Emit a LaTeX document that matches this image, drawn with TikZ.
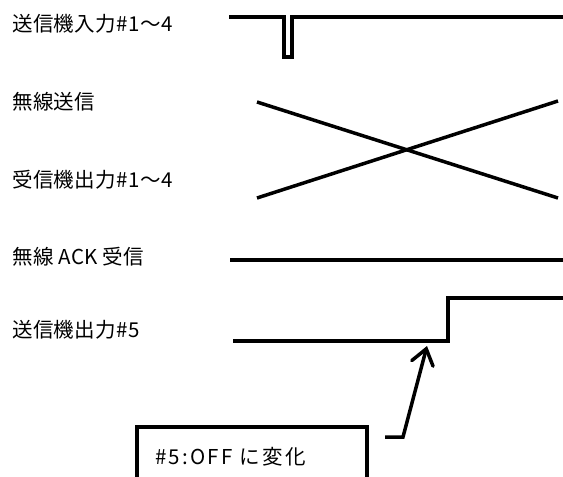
\documentclass[tikz,border=0pt]{standalone}
\usepackage{fontspec}
\setmainfont{Noto Sans CJK JP}
\usetikzlibrary{arrows.meta}
\tikzset{
  wave/.style={line width=3.5pt, line join=miter},
  lbl/.style={anchor=west, inner sep=0pt, font=\fontsize{20.5}{24}\selectfont\addfontfeature{LetterSpace=2}},
  callout/.style={draw, line width=3.5pt, minimum width=230pt, minimum height=80pt, anchor=north west, inner sep=0pt},
  ptr/.style={line width=3.5pt, -{Straight Barb[length=15pt, width=22pt, line cap=round]}}
}
\begin{document}
\begin{tikzpicture}[x=1pt, y=-1pt]
\useasboundingbox (0,0) rectangle (563,477);
\clip (0,0) rectangle (563,477);
% labels
\node[lbl] (l1) at (12,24) {送信機入力\#1～4};
\node[lbl] (l2) at (12,102) {無線送信};
\node[lbl] (l3) at (12,180) {受信機出力\#1～4};
\node[lbl] (l4) at (12,257) {無線 ACK 受信};
\node[lbl] (l5) at (12,330) {送信機出力\#5};
% waveform 1
\draw[wave] (229,17) -- (284,17) -- (284,57) -- (292,57) -- (292,17) -- (563,17);
% crossing
\coordinate (xa) at (257,102);
\coordinate (xb) at (558,198);
\coordinate (xc) at (257,198);
\coordinate (xd) at (558,101);
\draw[wave] (xa) -- (xb);
\draw[wave] (xc) -- (xd);
% ACK line
\draw[wave] (230,260) -- (563,260);
% output #5
\draw[wave] (233,341) -- (448,341) -- (448,298) -- (563,298);
% callout box
\node[callout] (box) at (135,425) {};
\node[anchor=west, inner sep=0pt, font=\fontsize{20.5}{24}\selectfont\addfontfeature{LetterSpace=11}] (btxt) at (155,457) {\#5:OFF に変化};
% pointer
\coordinate (p0) at (385,437);
\coordinate (p1) at (403,437);
\coordinate (tip) at (427,346);
\draw[ptr] (p0) -- (p1) -- (tip);
\end{tikzpicture}
\end{document}
